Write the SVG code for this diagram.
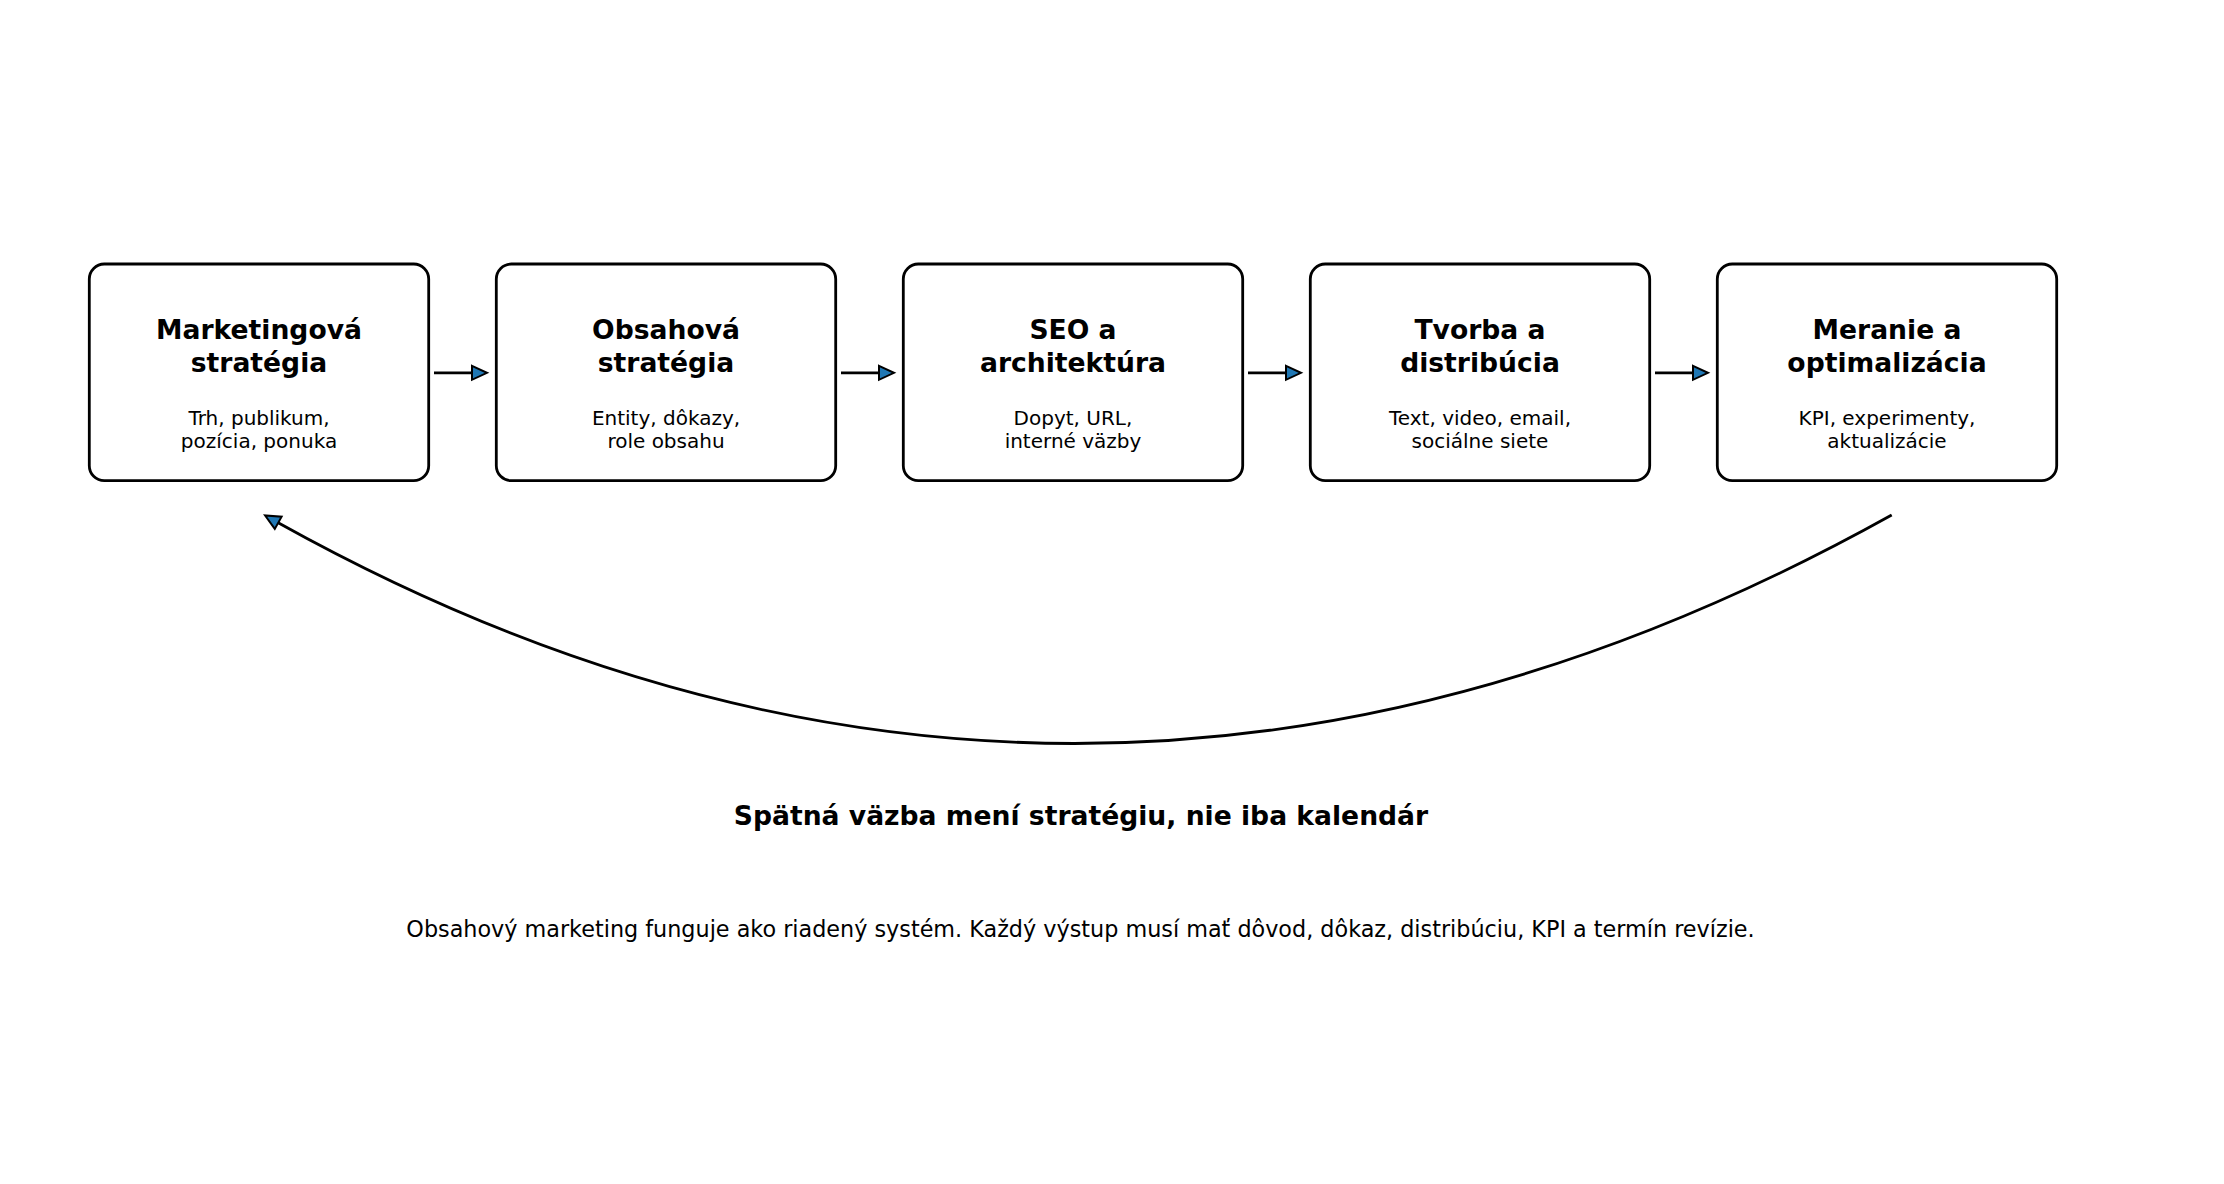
<svg xmlns="http://www.w3.org/2000/svg" width="2224" height="1184" viewBox="0 0 2224 1184">
<style>
.box{fill:#ffffff;stroke:#000000;stroke-width:2.8}
.t{font-family:"DejaVu Sans",sans-serif;font-size:26.6px;font-weight:bold;text-anchor:middle;fill:#000}
.s{font-family:"DejaVu Sans",sans-serif;font-size:20px;text-anchor:middle;fill:#000}
.c{fill:none;stroke:#000;stroke-width:2.8}
</style>
<defs>
<marker id="ah" markerUnits="userSpaceOnUse" markerWidth="20" markerHeight="20" refX="0" refY="7" orient="auto" overflow="visible">
<path d="M0,0 L15,7 L0,14 Z" fill="#1f77b4" stroke="#000" stroke-width="2" stroke-linejoin="miter"/>
</marker>
</defs>
<rect width="2224" height="1184" fill="#ffffff"/>
<g id="node1">
<rect class="box" x="89.3" y="264" width="339.4" height="216.7" rx="15"/>
<text class="t" x="259" y="339.3">Marketingová</text>
<text class="t" x="259" y="371.7">stratégia</text>
<text class="s" x="259" y="425">Trh, publikum,</text>
<text class="s" x="259" y="447.7">pozícia, ponuka</text>
</g>
<g id="node2">
<rect class="box" x="496.3" y="264" width="339.4" height="216.7" rx="15"/>
<text class="t" x="666" y="339.3">Obsahová</text>
<text class="t" x="666" y="371.7">stratégia</text>
<text class="s" x="666" y="425">Entity, dôkazy,</text>
<text class="s" x="666" y="447.7">role obsahu</text>
</g>
<g id="node3">
<rect class="box" x="903.3" y="264" width="339.4" height="216.7" rx="15"/>
<text class="t" x="1073" y="339.3">SEO a</text>
<text class="t" x="1073" y="371.7">architektúra</text>
<text class="s" x="1073" y="425">Dopyt, URL,</text>
<text class="s" x="1073" y="447.7">interné väzby</text>
</g>
<g id="node4">
<rect class="box" x="1310.3" y="264" width="339.4" height="216.7" rx="15"/>
<text class="t" x="1480" y="339.3">Tvorba a</text>
<text class="t" x="1480" y="371.7">distribúcia</text>
<text class="s" x="1480" y="425">Text, video, email,</text>
<text class="s" x="1480" y="447.7">sociálne siete</text>
</g>
<g id="node5">
<rect class="box" x="1717.3" y="264" width="339.4" height="216.7" rx="15"/>
<text class="t" x="1887" y="339.3">Meranie a</text>
<text class="t" x="1887" y="371.7">optimalizácia</text>
<text class="s" x="1887" y="425">KPI, experimenty,</text>
<text class="s" x="1887" y="447.7">aktualizácie</text>
</g>
<g id="connectors">
<path class="c" d="M434,372.8 L472,372.8" marker-end="url(#ah)"/>
<path class="c" d="M841,372.8 L879,372.8" marker-end="url(#ah)"/>
<path class="c" d="M1248,372.8 L1286,372.8" marker-end="url(#ah)"/>
<path class="c" d="M1655,372.8 L1693,372.8" marker-end="url(#ah)"/>
<path class="c" d="M1891.7,515 Q1078,968 278.2,522.8" marker-end="url(#ah)"/>
</g>
<text class="t" x="1081" y="825">Spätná väzba mení stratégiu, nie iba kalendár</text>
<text font-family="DejaVu Sans, sans-serif" font-size="22.3" text-anchor="middle" x="1080.5" y="937">Obsahový marketing funguje ako riadený systém. Každý výstup musí mať dôvod, dôkaz, distribúciu, KPI a termín revízie.</text>
</svg>
